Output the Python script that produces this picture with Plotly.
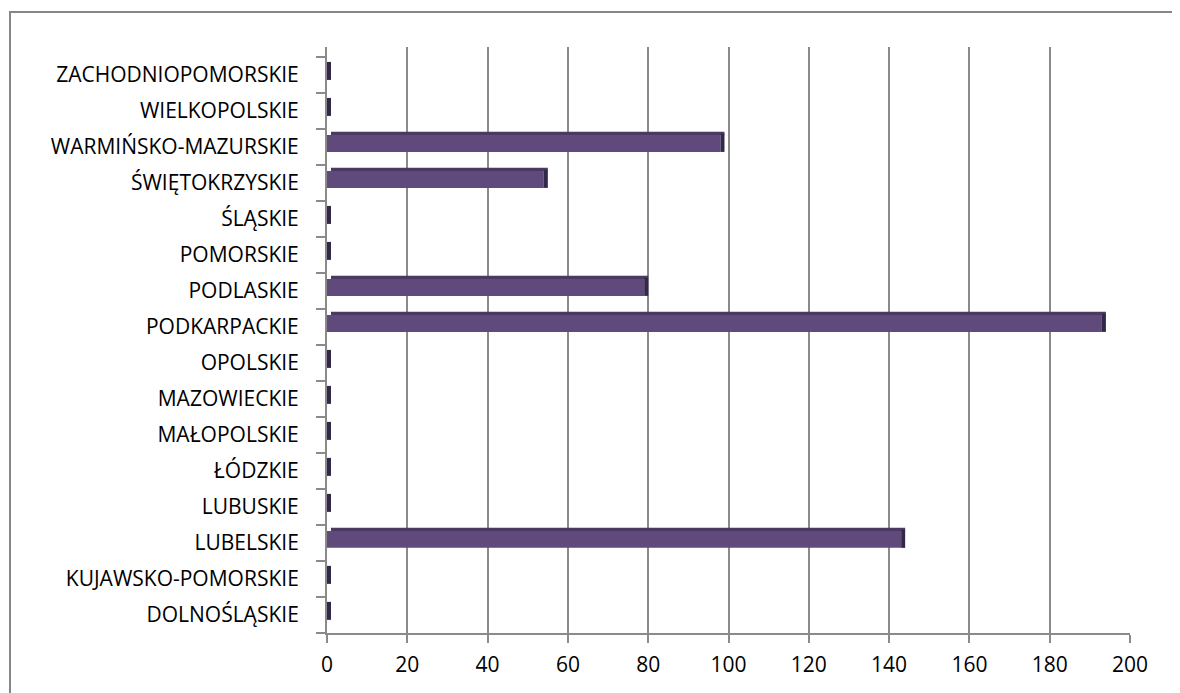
import plotly.graph_objects as go

categories = [
    "DOLNOŚLĄSKIE", "KUJAWSKO-POMORSKIE", "LUBELSKIE", "LUBUSKIE", "ŁÓDZKIE",
    "MAŁOPOLSKIE", "MAZOWIECKIE", "OPOLSKIE", "PODKARPACKIE", "PODLASKIE",
    "POMORSKIE", "ŚLĄSKIE", "ŚWIĘTOKRZYSKIE", "WARMIŃSKO-MAZURSKIE",
    "WIELKOPOLSKIE", "ZACHODNIOPOMORSKIE",
]
values = [0, 0, 143, 0, 0, 0, 0, 0, 193, 79, 0, 0, 54, 98, 0, 0]
x_ticks = [0, 20, 40, 60, 80, 100, 120, 140, 160, 180, 200]

FONT = "Open Sans"
FRONT = "#5F4A7B"
TOP = "#4A3A61"
SIDE = "#33284A"
GRID = "#8A8A8A"

depth = 1.0  # visual depth of the 3D cap, in axis units

fig = go.Figure()
# front face
fig.add_trace(go.Bar(
    y=categories, x=values, orientation="h",
    width=0.47, offset=-0.135, marker=dict(color=FRONT, line=dict(width=0)),
    hoverinfo="x+y", showlegend=False,
))
# top face
fig.add_trace(go.Bar(
    y=categories, x=values, base=[depth] * len(values), orientation="h",
    width=0.09, offset=0.335, marker=dict(color=TOP, line=dict(width=0)),
    hoverinfo="skip", showlegend=False,
))
# end cap (side face)
fig.add_trace(go.Bar(
    y=categories, x=[depth] * len(values), base=values, orientation="h",
    width=0.5, offset=-0.135, marker=dict(color=SIDE, line=dict(width=0)),
    hoverinfo="skip", showlegend=False,
))

# page body adds an 8px offset; figure coordinates are relative to it
W, H = 1172, 685
L, R, T, B = 319, 50, 39, 60
pw, ph = W - L - R, H - T - B

fig.update_layout(
    width=W, height=H,
    margin=dict(l=L, r=R, t=T, b=B),
    paper_bgcolor="white", plot_bgcolor="white",
    barmode="overlay",
    font=dict(family=FONT, size=21, color="#000000"),
    xaxis=dict(
        range=[0, 200], tickvals=x_ticks, ticktext=[str(v) for v in x_ticks],
        showgrid=True, gridcolor=GRID, gridwidth=2,
        showline=True, linecolor=GRID, linewidth=2,
        ticks="outside", ticklen=8, tickcolor=GRID, tickwidth=2,
        ticklabelstandoff=4,
        zeroline=False, fixedrange=True,
    ),
    yaxis=dict(
        type="category", categoryorder="array", categoryarray=categories,
        range=[-0.5, 15.78],
        showgrid=False, showline=True, linecolor=GRID, linewidth=2,
        ticks="outside", ticklen=9, tickcolor=GRID, tickwidth=2,
        tickson="boundaries", ticklabelstandoff=22,
        zeroline=False, fixedrange=True,
    ),
    shapes=[
        dict(type="rect", xref="paper", yref="paper",
             x0=(2 - L) / pw, x1=1.3, y0=-0.3, y1=1 + (T - 4) / ph,
             line=dict(color="#868686", width=2), fillcolor="rgba(0,0,0,0)",
             layer="below"),
    ],
)

fig.write_html("out.html")
